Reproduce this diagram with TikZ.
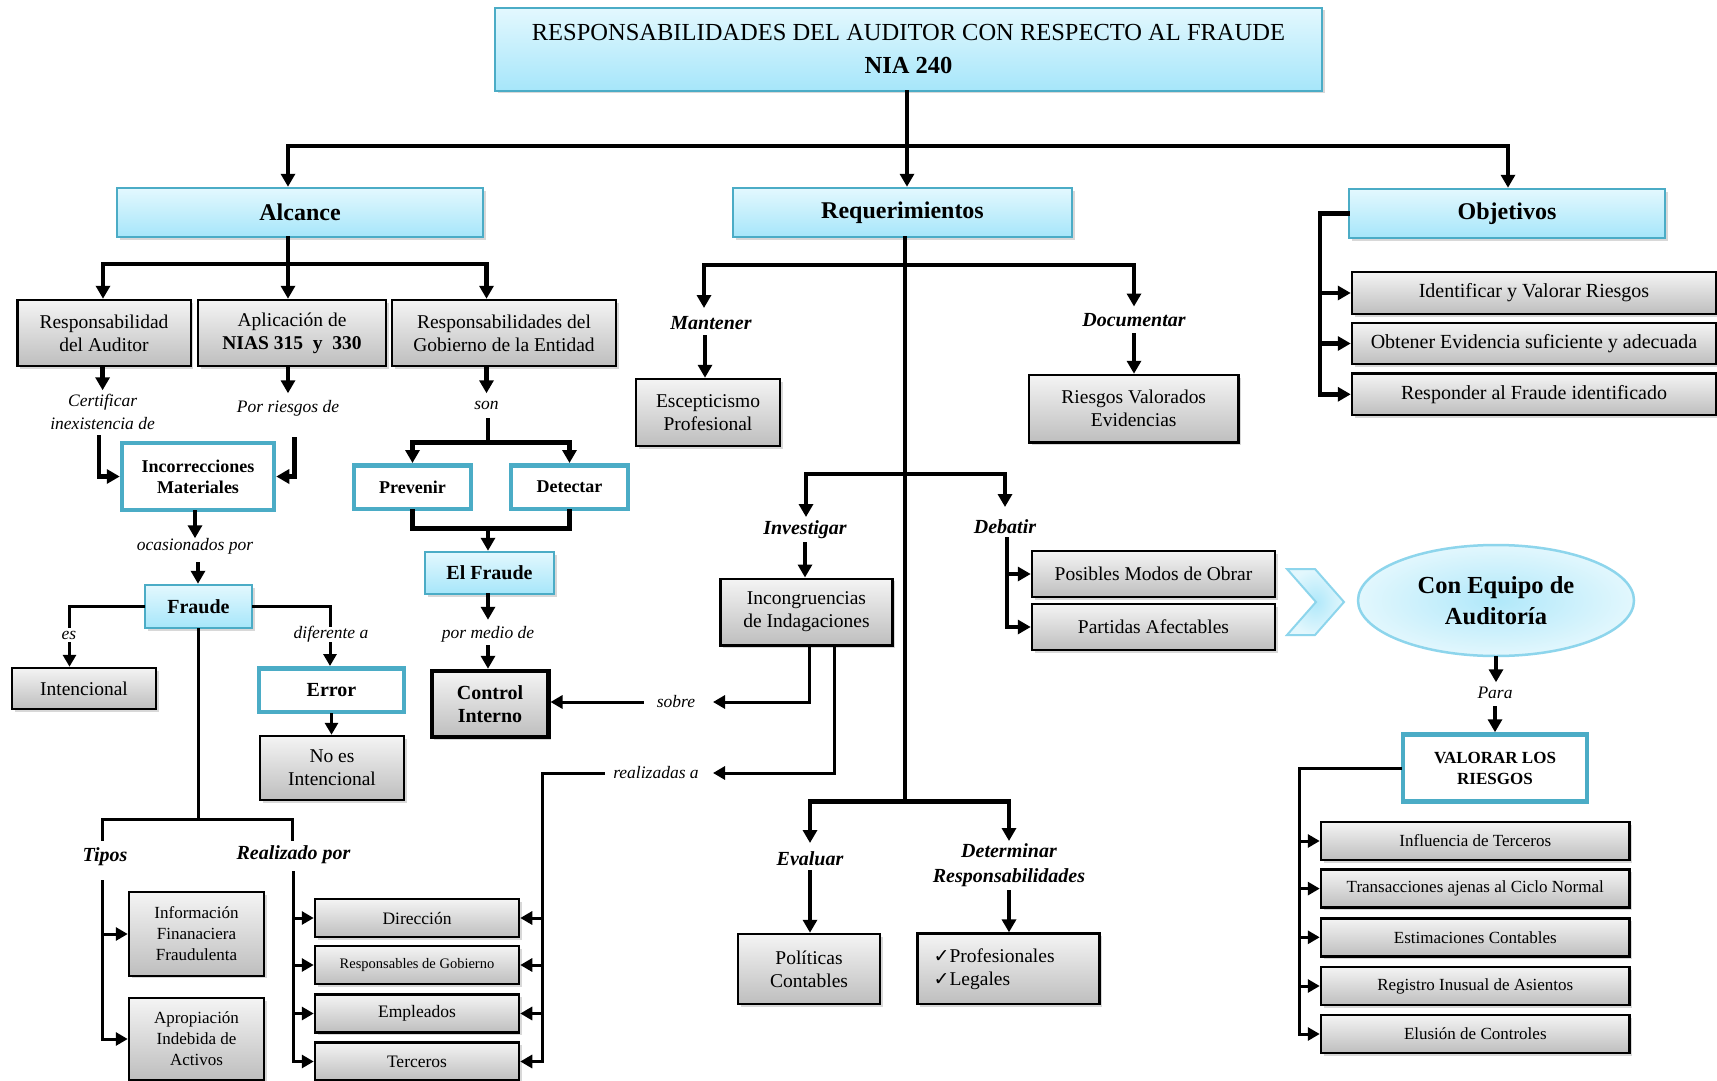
\documentclass[tikz,border=0pt]{standalone}
\usepackage{fontspec}
\setmainfont{Liberation Serif}
\newfontfamily\symfont{DejaVu Sans}
\usetikzlibrary{arrows.meta,shapes.geometric,shadows,calc}
\definecolor{teal1}{HTML}{4BACC6}
\definecolor{ctop}{HTML}{E3F8FE}
\definecolor{cbot}{HTML}{A6E6FA}
\definecolor{gtop}{HTML}{F4F4F4}
\definecolor{gbot}{HTML}{BEBEBE}
\definecolor{eline}{HTML}{8DD5EC}
\definecolor{ein}{HTML}{B0E8FA}
\definecolor{eout}{HTML}{E2F7FD}
\newcommand\fz[2]{\fontsize{#1pt}{#2pt}\selectfont}

\tikzset{
  sz/.style 2 args={minimum width=#1pt, minimum height=#2pt},
  shd/.style={drop shadow={shadow xshift=2.5pt, shadow yshift=-2.5pt, opacity=0.3}},
  gbox/.style={draw=black, line width=2.5pt, top color=gtop, bottom color=gbot, shd,
    inner sep=0pt, align=center, font=\fz{19.5}{23}},
  cbox/.style={draw=teal1, line width=2.5pt, top color=ctop, bottom color=cbot, shd,
    inner sep=0pt, align=center},
  wbox/.style={draw=teal1, line width=4.5pt, fill=white, inner sep=0pt, align=center,
    font=\bfseries\fz{18}{21}},
  lab/.style={inner sep=0pt, align=center, font=\itshape\fz{17.5}{23}},
  blab/.style={inner sep=0pt, align=center, font=\bfseries\itshape\fz{20}{25}},
  ln/.style={line width=4.5pt, line cap=rect, line join=miter},
  lnt/.style={line width=3pt, line cap=rect, line join=miter},
  ar/.style={ln, -{Triangle[length=13pt,width=14pt]}},
  art/.style={lnt, -{Triangle[length=12pt,width=13pt]}},
}

\begin{document}
\begin{tikzpicture}[x=1pt,y=-1pt]
\useasboundingbox (0,0) rectangle (1717,1081);
\fill[white] (0,0) rectangle (1717,1081);

% ---------- top level ----------
\node[cbox, sz={827}{83}, font=\fz{24.5}{33}] (title) at (908.5,49.4)
  {RESPONSABILIDADES DEL AUDITOR CON RESPECTO AL FRAUDE\\\textbf{NIA 240}};
\node[cbox, sz={366}{49}, font=\bfseries\fz{24}{28}] (alc) at (300,212.5) {Alcance};
\node[cbox, sz={339}{49}, font=\bfseries\fz{24}{28}] (req) at (902.5,212.5) {Requerimientos};
\node[cbox, sz={316}{49}, font=\bfseries\fz{24}{28}] (obj) at (1507,213.5) {Objetivos};

% ---------- Alcance ----------
\node[gbox, sz={173.5}{66}] (rda) at (104,333) {Responsabilidad\\del Auditor};
\node[gbox, sz={188}{66}] (apl) at (292,333) {Aplicación de\\\textbf{NIAS 315\ \ y\ \ 330}};
\node[gbox, sz={224}{66}] (rge) at (504,333) {Responsabilidades del\\Gobierno de la Entidad};
\node[lab] (cert) at (102.6,411.5) {Certificar\\inexistencia de};
\node[lab] (ries) at (288,408) {Por riesgos de};
\node[wbox, sz={152}{67}] (incor) at (198,476.5) {Incorrecciones\\Materiales};
\node[lab] (ocas) at (195,546) {ocasionados por};
\node[cbox, sz={107}{43}, font=\bfseries\fz{20}{24}] (fraude) at (198.5,606.5) {Fraude};
\node[lab] (es) at (69,635) {es};
\node[gbox, sz={144}{41}] (inten) at (84,688.5) {Intencional};
\node[lab] (dif) at (331,634) {diferente a};
\node[wbox, sz={145}{43.5}, font=\bfseries\fz{20}{24}] (error) at (331.5,690) {Error};
\node[gbox, sz={144}{64}] (noint) at (332,768) {No es\\Intencional};
\node[blab] (tipos) at (105,857) {Tipos};
\node[blab] (realiz) at (293.5,855) {Realizado por};
\node[gbox, sz={135}{83.6}, font=\fz{17}{21}] (info) at (196.5,934) {Información\\Finanaciera\\Fraudulenta};
\node[gbox, sz={135}{82}, font=\fz{17}{21}] (aprop) at (196.5,1039) {Apropiación\\Indebida de\\Activos};
\node[gbox, sz={204}{38}, font=\fz{17.5}{21}] (dir) at (417,918) {Dirección};
\node[gbox, sz={204}{38}, font=\fz{14.5}{18}] (rgob) at (417,965) {Responsables de Gobierno};
\node[gbox, sz={204}{38}, font=\fz{17.5}{21}] (emp) at (417,1013.5) {Empleados};
\node[gbox, sz={204}{38}, font=\fz{17.5}{21}] (ter) at (417,1061.5) {Terceros};

\node[lab] (son) at (486.5,405) {son};
\node[wbox, sz={117}{43.5}] (prev) at (412.5,487) {Prevenir};
\node[wbox, sz={117}{43.5}] (det) at (569.5,487) {Detectar};
\node[cbox, sz={129}{42}, font=\bfseries\fz{20}{24}] (elf) at (489.5,573) {El Fraude};
\node[lab] (medio) at (488,634) {por medio de};
\node[gbox, sz={116.5}{66}, line width=4.5pt, font=\bfseries\fz{20}{23}] (ctrl) at (490,704) {Control\\Interno};
\node[lab] (sobre) at (676,702) {sobre};
\node[lab] (realz) at (656,773) {realizadas a};

% ---------- Requerimientos ----------
\node[blab] (mant) at (711,322.6) {Mantener};
\node[gbox, sz={144}{67}] (escep) at (708,412.5) {Escepticismo\\Profesional};
\node[blab] (docu) at (1134,319.6) {Documentar};
\node[gbox, sz={209.5}{67.5}] (rv) at (1133.75,408.75) {Riesgos Valorados\\Evidencias};
\node[blab] (inv) at (805,530) {Investigar};
\node[gbox, sz={172}{66.5}] (incong) at (806.5,612) {Incongruencias\\de Indagaciones};
\node[blab] (deb) at (1005,527) {Debatir};
\node[gbox, sz={243}{46}] (pos) at (1153.5,574) {Posibles Modos de Obrar};
\node[gbox, sz={243}{46}] (part) at (1153.5,627) {Partidas Afectables};
\node[blab] (eval) at (810,858.5) {Evaluar};
\node[gbox, sz={142}{70}] (pol) at (809,969) {Políticas\\Contables};
\node[blab] (detr) at (1009,865) {Determinar\\Responsabilidades};
\node[gbox, sz={182}{70.4}, text width=150pt, align=left] (prof) at (1008.6,968.8)
  {{\symfont\fz{19}{23}✓}Profesionales\\{\symfont\fz{19}{23}✓}Legales};

% ---------- Objetivos ----------
\node[gbox, sz={364}{42}, font=\fz{20}{23}] (ident) at (1534,293) {Identificar y Valorar Riesgos};
\node[gbox, sz={364}{41}, font=\fz{20}{23}] (obten) at (1534,343.5) {Obtener Evidencia suficiente y adecuada};
\node[gbox, sz={364}{41.4}, font=\fz{20}{23}] (respd) at (1534,394.3) {Responder al Fraude identificado};

% ---------- equipo de auditoría ----------
\draw[draw=eline, line width=2pt, inner color=ein, outer color=eout]
  (1287,569) -- (1315,569) -- (1344,602) -- (1315,635) -- (1287,635) -- (1316,602) -- cycle;
\node[ellipse, draw=eline, line width=2.5pt, inner color=ein, outer color=eout, sz={276}{111},
  font=\bfseries\fz{24.5}{30.5}, align=center, inner sep=0pt] (equipo) at (1496,600.5)
  {Con Equipo de\\Auditoría};
\node[lab] (para) at (1495,693) {Para};
\node[wbox, sz={184}{67}, font=\bfseries\fz{17}{21}] (val) at (1495,768) {VALORAR LOS\\RIESGOS};
\node[gbox, sz={308.6}{38}, font=\fz{17}{21}] (inf) at (1475.3,841) {Influencia de Terceros};
\node[gbox, sz={308.6}{38}, font=\fz{17}{21}] (tra) at (1475.3,888.6) {Transacciones ajenas al Ciclo Normal};
\node[gbox, sz={308.6}{38}, font=\fz{17}{21}] (est) at (1475.3,937.3) {Estimaciones Contables};
\node[gbox, sz={308.6}{38}, font=\fz{17}{21}] (reg) at (1475.3,986) {Registro Inusual de Asientos};
\node[gbox, sz={308.6}{38}, font=\fz{17}{21}] (elu) at (1475.3,1034) {Elusión de Controles};

% ================= connectors =================
% top level
\coordinate (jt) at (907,146);
\coordinate (ja) at (288,146);
\coordinate (jo) at (1508,146);
\draw[ln] (title.south -| jt) -- (jt);
\draw[ln] (ja) -- (jo);
\draw[ar] (ja) -- (ja |- alc.north);
\draw[ar] (jt) -- (jt |- req.north);
\draw[ar] (jo) -- (jo |- obj.north);

% Alcance
\coordinate (ab) at (288,264);
\coordinate (abl) at (103,264);
\coordinate (abr) at (486.5,264);
\draw[ln] (alc.south -| ab) -- (ab);
\draw[ln] (abl) -- (abr);
\draw[ar] (abl) -- (abl |- rda.north);
\draw[ar] (ab) -- (ab |- apl.north);
\draw[ar] (abr) -- (abr |- rge.north);

\draw[ar] (rda.south -| cert) -- ++(0,23);
\coordinate (c1) at (99,437);
\draw[ar] (c1) |- (incor.west);
\draw[ar] (apl.south -| ries) -- ++(0,26);
\coordinate (c2) at (294.5,439);
\draw[ar] (c2) |- (incor.east);
\draw[ar] (incor.south -| ocas) -- ++(0,26);
\coordinate (c3) at (198,564);
\draw[ar] (c3) -- (c3 |- fraude.north);

% Fraude
\coordinate (f1) at (69.5,626);
\coordinate (f2) at (69.5,643);
\coordinate (f3) at (330,625);
\coordinate (f4) at (330,643);
\draw[lnt] (fraude.west) -| (f1);
\draw[art] (f2) -- (f2 |- inten.north);
\draw[lnt] (fraude.east) -| (f3);
\draw[art] (f4) -- (f4 |- error.north);
\draw[art] (error.south) -- (error.south |- noint.north);

\coordinate (fb) at (198.6,819);
\coordinate (fbl) at (102,819);
\coordinate (fbr) at (292,819);
\draw[lnt] (fraude.south -| fb) -- (fb);
\draw[lnt] (fbl) -- (fbr);
\draw[lnt] (fbl) -- ++(0,20);
\draw[lnt] (fbr) -- ++(0,20);

\coordinate (t1) at (102,881);
\draw[art] (t1) |- (aprop.west);
\draw[art] (t1 |- info.west) -- (info.west);

\coordinate (r1) at (293,872);
\draw[art] (r1) |- (ter.west);
\draw[art] (r1 |- dir.west) -- (dir.west);
\draw[art] (r1 |- rgob.west) -- (rgob.west);
\draw[art] (r1 |- emp.west) -- (emp.west);

\coordinate (r2) at (542,773);
\coordinate (r3) at (603,773);
\draw[lnt] (r3) -- (r2) -- (r2 |- ter.east);
\draw[art] (r2 |- dir.east) -- (dir.east);
\draw[art] (r2 |- rgob.east) -- (rgob.east);
\draw[art] (r2 |- emp.east) -- (emp.east);
\draw[art] (r2 |- ter.east) -- (ter.east);

% Responsabilidades del Gobierno
\draw[ar] (rge.south -| son) -- ++(0,26);
\coordinate (s1) at (488,420);
\coordinate (sb) at (488,442.5);
\draw[ln] (s1) -- (sb);
\draw[ar] (sb) -| (prev.north);
\draw[ar] (sb) -| (det.north);
\coordinate (pj) at (488,528.6);
\draw[ln] (prev.south) |- (pj) -| (det.south);
\draw[ar] (pj) -- (pj |- elf.north);
\draw[ar] (elf.south -| medio) -- ++(0,24.5);
\coordinate (m1) at (488,647);
\draw[ar] (m1) -- (m1 |- ctrl.north);

% Incongruencias hacia Control Interno y responsables
\coordinate (stip) at (713,702);
\coordinate (s2) at (642,702);
\draw[art] ([xshift=2.5pt]incong.south) |- (stip);
\draw[art] (s2) -- (s2 -| ctrl.east);
\coordinate (rtip) at (713,773);
\draw[art] ([xshift=27.5pt]incong.south) |- (rtip);

% Requerimientos
\coordinate (rv1) at (905,801.7);
\draw[ln] (req.south -| rv1) -- (rv1);
\coordinate (rbl) at (704,265);
\coordinate (rbr) at (1134,265);
\draw[ln] (rbl) -- (rbr);
\draw[ar] (rbl) -- ++(0,43);
\coordinate (mm) at (705,337.5);
\draw[ar] (mm) -- (mm |- escep.north);
\draw[ar] (rbr) -- ++(0,41.5);
\coordinate (dd) at (1134,335.7);
\draw[ar] (dd) -- (dd |- rv.north);

\coordinate (ibl) at (806,474);
\coordinate (ibr) at (1005,474);
\draw[ln] (ibl) -- (ibr);
\draw[ar] (ibl) -- ++(0,43);
\coordinate (ii) at (805,544);
\draw[ar] (ii) -- (ii |- incong.north);
\draw[ar] (ibr) -- ++(0,33);
\coordinate (db) at (1007,539);
\draw[ar] (db) |- (part.west);
\draw[ar] (db |- pos.west) -- (pos.west);

\coordinate (ebl) at (810,801.7);
\coordinate (ebr) at (1009,801.7);
\draw[ln] (ebl) -- (ebr);
\draw[ar] (ebl) -- ++(0,41.3);
\coordinate (ee) at (810,872);
\draw[ar] (ee) -- (ee |- pol.north);
\draw[ar] (ebr) -- ++(0,39.3);
\coordinate (de) at (1009,892);
\draw[ar] (de) -- (de |- prof.north);

% Objetivos
\coordinate (oj) at (1320,213.5);
\draw[ar] (obj.west) -- (oj) |- (respd.west);
\draw[ar] (oj |- ident.west) -- (ident.west);
\draw[ar] (oj |- obten.west) -- (obten.west);

% Equipo de auditoría
\draw[ar, line width=3.5pt] (equipo.south) -- ++(0,25);
\coordinate (pp) at (1495,708);
\draw[ar, line width=3.5pt] (pp) -- (pp |- val.north);
\coordinate (vj) at (1299,800);
\draw[art] (val.west) -- (val.west -| vj) |- (elu.west);
\draw[art] (vj |- inf.west) -- (inf.west);
\draw[art] (vj |- tra.west) -- (tra.west);
\draw[art] (vj |- est.west) -- (est.west);
\draw[art] (vj |- reg.west) -- (reg.west);
\end{tikzpicture}
\end{document}
